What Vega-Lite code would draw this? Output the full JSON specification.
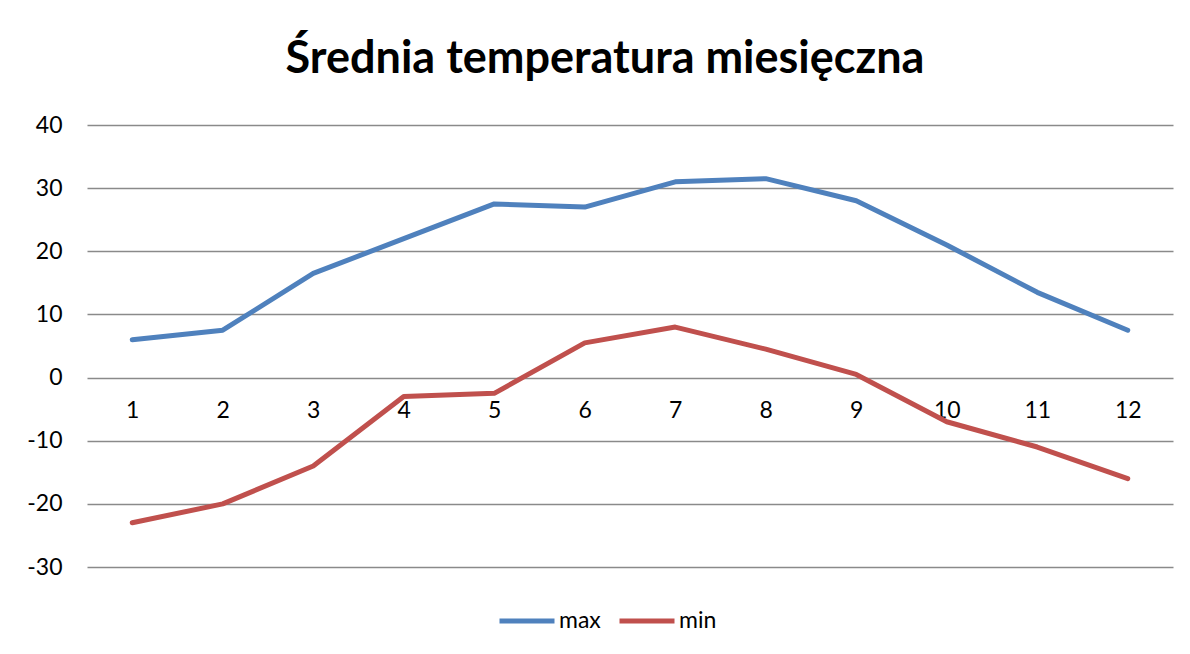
{
  "$schema": "https://vega.github.io/schema/vega-lite/v6.json",
  "autosize": {"type": "none"},
  "width": 1086,
  "height": 442,
  "padding": {"left": 87, "top": 125, "right": 17, "bottom": 87},
  "background": "white",
  "config": {
    "view": {"stroke": null},
    "font": "Lato"
  },
  "title": {
    "text": "Średnia temperatura miesięczna",
    "font": "Lato",
    "fontSize": 45,
    "fontWeight": "bold",
    "color": "#000000",
    "anchor": "middle",
    "frame": "group",
    "dx": -25,
    "offset": 32
  },
  "data": {
    "values": [
      {"month": "1", "series": "max", "temp": 6},
      {"month": "2", "series": "max", "temp": 7.5},
      {"month": "3", "series": "max", "temp": 16.5},
      {"month": "4", "series": "max", "temp": 22},
      {"month": "5", "series": "max", "temp": 27.5},
      {"month": "6", "series": "max", "temp": 27},
      {"month": "7", "series": "max", "temp": 31},
      {"month": "8", "series": "max", "temp": 31.5},
      {"month": "9", "series": "max", "temp": 28},
      {"month": "10", "series": "max", "temp": 21},
      {"month": "11", "series": "max", "temp": 13.5},
      {"month": "12", "series": "max", "temp": 7.5},
      {"month": "1", "series": "min", "temp": -23},
      {"month": "2", "series": "min", "temp": -20},
      {"month": "3", "series": "min", "temp": -14},
      {"month": "4", "series": "min", "temp": -3},
      {"month": "5", "series": "min", "temp": -2.5},
      {"month": "6", "series": "min", "temp": 5.5},
      {"month": "7", "series": "min", "temp": 8},
      {"month": "8", "series": "min", "temp": 4.5},
      {"month": "9", "series": "min", "temp": 0.5},
      {"month": "10", "series": "min", "temp": -7},
      {"month": "11", "series": "min", "temp": -11},
      {"month": "12", "series": "min", "temp": -16}
    ]
  },
  "mark": {"type": "line", "strokeWidth": 5, "strokeCap": "round", "strokeJoin": "round"},
  "encoding": {
    "x": {
      "field": "month",
      "type": "ordinal",
      "sort": null,
      "scale": {"type": "point", "padding": 0.5},
      "axis": {
        "title": null,
        "labelAngle": 0,
        "labelFontSize": 23,
        "labelColor": "#000000",
        "labelFont": "Lato",
        "ticks": false,
        "domain": false,
        "grid": false,
        "offset": -190,
        "labelPadding": 22
      }
    },
    "y": {
      "field": "temp",
      "type": "quantitative",
      "scale": {"domain": [-30, 40], "nice": false, "zero": false},
      "axis": {
        "title": null,
        "values": [-30, -20, -10, 0, 10, 20, 30, 40],
        "labelExpr": "replace(datum.label, '−', '-')",
        "labelFontSize": 23,
        "labelColor": "#000000",
        "labelFont": "Lato",
        "ticks": false,
        "domain": false,
        "labelPadding": 25,
        "gridColor": "#8a8a8a",
        "gridWidth": 1.5
      }
    },
    "color": {
      "field": "series",
      "type": "nominal",
      "scale": {"domain": ["max", "min"], "range": ["#4F81BD", "#C0504D"]},
      "legend": {
        "title": null,
        "orient": "none",
        "legendX": 410,
        "legendY": 466,
        "direction": "horizontal",
        "symbolType": "stroke",
        "symbolSize": 3025,
        "symbolStrokeWidth": 5,
        "labelFontSize": 23,
        "labelColor": "#000000",
        "labelFont": "Lato",
        "labelOffset": 2,
        "columnPadding": 8
      }
    }
  }
}
